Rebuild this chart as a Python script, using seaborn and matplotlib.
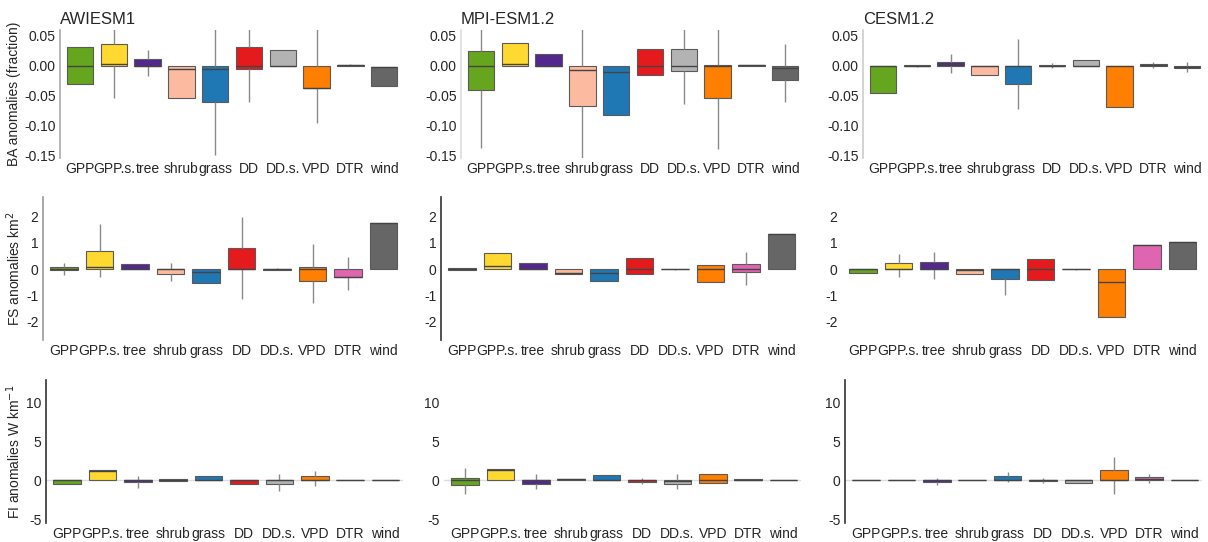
import numpy as np
import pandas as pd
import seaborn as sns
import matplotlib.pyplot as plt

cats = ['GPP', 'GPP.s.', 'tree', 'shrub', 'grass', 'DD', 'DD.s.', 'VPD', 'DTR', 'wind']
colors = ['#66a61e', '#ffd92f', '#54278f', '#fcbba1', '#1f78b4',
          '#e41a1c', '#b3b3b3', '#ff7f00', '#df65b0', '#666666']
models = ['AWIESM1', 'MPI-ESM1.2', 'CESM1.2']
ylabels = ['BA anomalies (fraction)', 'FS anomalies km$^2$', 'FI anomalies W km$^{-1}$']

# five-number summaries (whisker low, q1, median, q3, whisker high)
awi_ba_lo = [-0.030, -0.054, -0.018, -0.054, -0.150, -0.061, 0.000, -0.097, -0.001, -0.034]
awi_ba_q1 = [-0.030, 0.000, -0.001, -0.054, -0.061, -0.005, 0.000, -0.038, 0.000, -0.034]
awi_ba_md = [0.000, 0.003, 0.000, -0.005, -0.005, 0.000, 0.000, -0.038, 0.001, -0.002]
awi_ba_q3 = [0.032, 0.037, 0.012, -0.001, -0.001, 0.031, 0.026, 0.000, 0.001, -0.002]
awi_ba_hi = [0.032, 0.070, 0.027, -0.001, 0.070, 0.070, 0.026, 0.070, 0.003, -0.002]

mpi_ba_lo = [-0.138, 0.000, 0.000, -0.170, -0.083, -0.016, -0.065, -0.140, 0.000, -0.061]
mpi_ba_q1 = [-0.041, 0.000, 0.000, -0.067, -0.083, -0.016, -0.009, -0.055, 0.000, -0.024]
mpi_ba_md = [0.000, 0.003, 0.000, -0.008, -0.011, 0.000, 0.000, 0.000, 0.0005, -0.003]
mpi_ba_q3 = [0.024, 0.038, 0.019, 0.000, 0.000, 0.028, 0.028, 0.002, 0.001, 0.000]
mpi_ba_hi = [0.070, 0.038, 0.019, 0.070, 0.000, 0.028, 0.070, 0.070, 0.001, 0.037]

cesm_ba_lo = [-0.045, -0.002, -0.012, -0.015, -0.073, -0.004, 0.000, -0.070, -0.003, -0.011]
cesm_ba_q1 = [-0.045, -0.001, 0.000, -0.015, -0.030, -0.001, 0.000, -0.070, 0.000, -0.004]
cesm_ba_md = [0.000, 0.000, 0.003, 0.000, 0.000, 0.000, 0.000, 0.000, 0.001, -0.002]
cesm_ba_q3 = [0.000, 0.001, 0.007, 0.000, 0.000, 0.002, 0.010, 0.000, 0.003, 0.000]
cesm_ba_hi = [0.000, 0.002, 0.019, 0.000, 0.045, 0.005, 0.010, 0.000, 0.006, 0.006]

awi_fs_lo = [-0.24, -0.31, 0.00, -0.46, -0.54, -1.15, -0.03, -1.28, -0.78, 0.00]
awi_fs_q1 = [-0.05, 0.01, 0.00, -0.19, -0.54, 0.00, -0.02, -0.44, -0.30, 0.00]
awi_fs_md = [0.00, 0.10, 0.00, 0.00, -0.11, 0.00, 0.00, 0.00, -0.30, 1.76]
awi_fs_q3 = [0.08, 0.69, 0.20, 0.00, 0.00, 0.79, 0.02, 0.10, 0.00, 1.76]
awi_fs_hi = [0.25, 1.72, 0.20, 0.25, 0.00, 2.00, 0.03, 0.95, 0.45, 1.76]

mpi_fs_lo = [-0.04, 0.00, 0.00, -0.19, -0.44, -0.19, -0.02, -0.50, -0.59, 0.00]
mpi_fs_q1 = [-0.04, 0.00, 0.00, -0.19, -0.44, -0.19, -0.01, -0.50, -0.12, 0.00]
mpi_fs_md = [0.00, 0.12, 0.00, -0.15, -0.15, 0.00, 0.00, 0.00, 0.00, 1.33]
mpi_fs_q3 = [0.04, 0.60, 0.22, 0.00, 0.00, 0.41, 0.01, 0.16, 0.19, 1.33]
mpi_fs_hi = [0.04, 0.60, 0.22, 0.00, 0.00, 0.41, 0.02, 0.16, 0.66, 1.33]

cesm_fs_lo = [-0.15, -0.31, -0.38, -0.19, -1.00, -0.40, -0.02, -1.81, 0.00, 0.00]
cesm_fs_q1 = [-0.15, 0.00, 0.00, -0.19, -0.38, -0.40, -0.01, -1.81, 0.00, 0.00]
cesm_fs_md = [0.00, 0.00, 0.00, -0.05, 0.00, 0.00, 0.00, -0.50, 0.91, 1.03]
cesm_fs_q3 = [0.00, 0.22, 0.28, 0.00, 0.00, 0.38, 0.01, 0.00, 0.91, 1.03]
cesm_fs_hi = [0.00, 0.58, 0.66, 0.00, 0.00, 0.38, 0.02, 0.00, 0.91, 1.03]

awi_fi_lo = [-0.43, 0.00, -0.94, -0.04, 0.00, -0.43, -1.37, -0.73, 0.00, -0.02]
awi_fi_q1 = [-0.43, 0.00, -0.26, -0.04, 0.00, -0.43, -0.52, 0.00, 0.00, -0.01]
awi_fi_md = [0.00, 1.20, 0.00, 0.05, 0.00, 0.00, 0.00, 0.00, 0.01, 0.00]
awi_fi_q3 = [0.00, 1.33, 0.00, 0.13, 0.52, 0.00, 0.00, 0.52, 0.02, 0.01]
awi_fi_hi = [0.00, 1.33, 0.56, 0.13, 0.52, 0.00, 0.86, 1.20, 0.02, 0.02]

mpi_fi_lo = [-1.80, 0.00, -1.16, 0.00, 0.00, -0.50, -1.16, -0.39, 0.00, -0.01]
mpi_fi_q1 = [-0.60, 0.00, -0.47, 0.00, 0.00, -0.21, -0.52, -0.39, 0.00, 0.00]
mpi_fi_md = [0.00, 1.30, 0.00, 0.10, 0.00, 0.00, -0.15, 0.04, 0.05, 0.00]
mpi_fi_q3 = [0.30, 1.42, 0.00, 0.20, 0.64, 0.09, 0.00, 0.77, 0.13, 0.01]
mpi_fi_hi = [1.63, 1.42, 0.77, 0.20, 0.64, 0.34, 0.77, 0.77, 0.13, 0.02]

cesm_fi_lo = [-0.02, -0.02, -0.60, -0.02, -0.17, -0.34, -0.39, -1.80, -0.39, -0.02]
cesm_fi_q1 = [0.00, 0.00, -0.26, 0.00, 0.00, -0.13, -0.39, 0.00, 0.00, 0.00]
cesm_fi_md = [0.00, 0.00, 0.00, 0.00, 0.00, 0.00, 0.00, 0.00, 0.10, 0.00]
cesm_fi_q3 = [0.01, 0.01, 0.00, 0.01, 0.52, 0.09, 0.00, 1.29, 0.39, 0.01]
cesm_fi_hi = [0.02, 0.02, 0.34, 0.02, 1.12, 0.34, 0.00, 3.05, 0.77, 0.02]

stats = [
    [[awi_ba_lo, awi_ba_q1, awi_ba_md, awi_ba_q3, awi_ba_hi],
     [mpi_ba_lo, mpi_ba_q1, mpi_ba_md, mpi_ba_q3, mpi_ba_hi],
     [cesm_ba_lo, cesm_ba_q1, cesm_ba_md, cesm_ba_q3, cesm_ba_hi]],
    [[awi_fs_lo, awi_fs_q1, awi_fs_md, awi_fs_q3, awi_fs_hi],
     [mpi_fs_lo, mpi_fs_q1, mpi_fs_md, mpi_fs_q3, mpi_fs_hi],
     [cesm_fs_lo, cesm_fs_q1, cesm_fs_md, cesm_fs_q3, cesm_fs_hi]],
    [[awi_fi_lo, awi_fi_q1, awi_fi_md, awi_fi_q3, awi_fi_hi],
     [mpi_fi_lo, mpi_fi_q1, mpi_fi_md, mpi_fi_q3, mpi_fi_hi],
     [cesm_fi_lo, cesm_fi_q1, cesm_fi_md, cesm_fi_q3, cesm_fi_hi]],
]

ylims = [(-0.155, 0.06), (-2.7, 2.75), (-5.5, 12.9)]
yticks = [[0.05, 0.0, -0.05, -0.10, -0.15], [2, 1, 0, -1, -2], [10, 5, 0, -5]]
yfmt = ['{:.2f}', '{:.0f}', '{:.0f}']

# layout in pixels: top/bottom of each row, centre of first box, box spacing
W, H = 1208, 542
row_top = [30, 197, 380]
row_bot = [158, 340, 523]
first_x = [[80, 481, 883], [64, 462, 863], [67, 465, 866]]
spacing = [33.8, 35.5, 35.4]
spine_col = [['#aaaaaa', '#dddddd', '#cccccc'],
             ['#999999', '#333333', None],
             ['#333333', None, '#333333']]

sns.set_style('white')
plt.rcParams['font.family'] = ['Liberation Sans', 'DejaVu Sans']

fig = plt.figure(figsize=(W / 100, H / 100), dpi=100)

for r in range(3):
    for c in range(3):
        sp = spacing[r]
        left = first_x[r][c] - 0.6 * sp
        ax = fig.add_axes([left / W, 1 - row_bot[r] / H, 10.1 * sp / W,
                           (row_bot[r] - row_top[r]) / H])
        lo, q1, md, q3, hi = stats[r][c]
        rows = []
        for i, cat in enumerate(cats):
            for v in (lo[i], q1[i], md[i], q3[i], hi[i]):
                rows.append({'var': cat, 'value': v})
        df = pd.DataFrame(rows)

        if r == 2:
            ax.axhline(0, color='#dddddd', lw=1, zorder=0)
        sns.boxplot(data=df, x='var', y='value', hue='var', order=cats, hue_order=cats,
                    palette=colors, saturation=1, legend=False, whis=(0, 100),
                    showcaps=False, showfliers=False, width=0.78, linewidth=0.8,
                    linecolor='#5a5a5a', ax=ax,
                    whiskerprops=dict(color='#8a8a8a', lw=1),
                    medianprops=dict(color='#444444', lw=1))
        ax.set_xlim(-0.6, 9.5)
        ax.set_ylim(*ylims[r])
        ax.set_yticks(yticks[r])
        ax.set_yticklabels([yfmt[r].format(t) for t in yticks[r]])
        ax.tick_params(axis='y', length=2, color='#bbbbbb', labelsize=10, pad=1)
        ax.tick_params(axis='x', length=0, labelsize=10, pad=3)
        ax.set_xlabel('')
        ax.set_ylabel('')
        for s in ['top', 'right', 'bottom']:
            ax.spines[s].set_visible(False)
        if spine_col[r][c] is None:
            ax.spines['left'].set_visible(False)
        else:
            ax.spines['left'].set_color(spine_col[r][c])
            ax.spines['left'].set_linewidth(1.2)
        if c == 0:
            ax.set_ylabel(ylabels[r], fontsize=10, labelpad=2)
        if r == 0:
            ax.set_title(models[c], loc='left', fontsize=12, pad=4)

fig.savefig('out.png', dpi=100)
